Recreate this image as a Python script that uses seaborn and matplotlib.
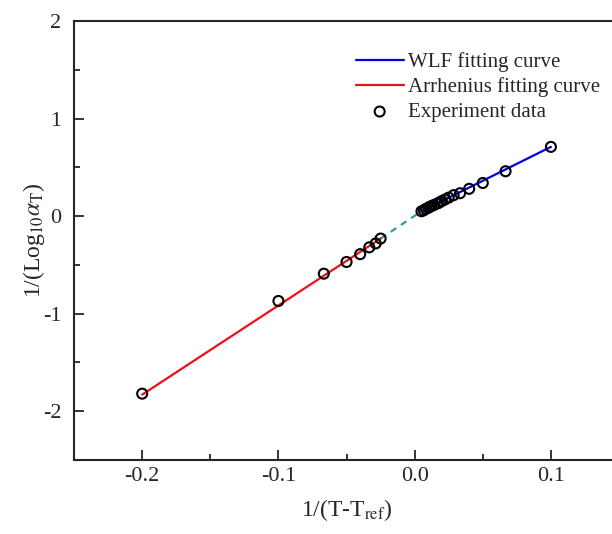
import matplotlib
matplotlib.use("Agg")
import matplotlib.pyplot as plt
from matplotlib.ticker import MultipleLocator
import seaborn as sns
import pandas as pd

# experiment points, 1/(T-Tref) vs 1/log10(aT)
arrh_x = [-0.2, -0.1, -0.0667, -0.05, -0.04, -0.0333, -0.0286, -0.025]
arrh_y = [-1.82, -0.87, -0.59, -0.47, -0.39, -0.32, -0.28, -0.23]
wlf_x = [0.005, 0.0067, 0.0083, 0.01, 0.0111, 0.0125, 0.0143, 0.0167, 0.0182,
         0.02, 0.0222, 0.025, 0.0286, 0.0333, 0.04, 0.05, 0.0667, 0.1]
wlf_y = [0.05, 0.06, 0.075, 0.085, 0.095, 0.105, 0.115, 0.13, 0.14,
         0.155, 0.17, 0.19, 0.215, 0.235, 0.28, 0.34, 0.46, 0.71]

# fitted lines (end points)
wlf_fit_x = [0.005, 0.1]
wlf_fit_y = [0.05, 0.71]
arrh_fit_x = [-0.2, -0.025]
arrh_fit_y = [-1.83, -0.23]
gap_x = [-0.025, 0.005]
gap_y = [-0.23, 0.05]

sns.set_style("ticks")
plt.rcParams["font.family"] = ["Liberation Serif", "DejaVu Serif"]
plt.rcParams["mathtext.fontset"] = "stix"

fig = plt.figure(figsize=(6.12, 5.34), dpi=100)
ax = fig.add_axes([0.121, 0.1386, 0.8905, 0.822])

pts = pd.DataFrame({"x": arrh_x + wlf_x, "y": arrh_y + wlf_y})

sns.lineplot(x=gap_x, y=gap_y, ax=ax, color="#2e9b9b", linestyle=(0, (3, 2.5)),
             linewidth=1.6, sort=False)
sns.lineplot(x=wlf_fit_x, y=wlf_fit_y, ax=ax, color="#0000ee", linewidth=1.6,
             sort=False, label="WLF fitting curve")
sns.lineplot(x=arrh_fit_x, y=arrh_fit_y, ax=ax, color="#ee1111", linewidth=1.6,
             sort=False, label="Arrhenius fitting curve")
sns.scatterplot(data=pts, x="x", y="y", ax=ax, marker="o", s=52,
                facecolor="none", edgecolor="black", linewidth=1.5,
                label="Experiment data", zorder=5)

ax.set_xlim(-0.25, 0.15)
ax.set_ylim(-2.5, 2)
ax.xaxis.set_minor_locator(MultipleLocator(0.05))
ax.yaxis.set_minor_locator(MultipleLocator(0.5))
ax.set_xticks([-0.2, -0.1, 0.0, 0.1])
ax.set_xticklabels(["-0.2", "-0.1", "0.0", "0.1"])
ax.set_yticks([-2, -1, 0, 1, 2])
ax.set_yticklabels(["-2", "-1", "0", "1", "2"])
ax.tick_params(which="both", direction="in", labelsize=16, width=1.3,
               top=False, right=False)
ax.tick_params(which="major", length=7)
ax.tick_params(axis="x", which="major", pad=5)
ax.tick_params(axis="y", which="major", pad=9)
ax.tick_params(which="minor", length=4)
for sp in ax.spines.values():
    sp.set_linewidth(1.5)

ax.set_xlabel(r"1/(T-T$_{\mathrm{ref}}$)", fontsize=17, labelpad=8)
ax.set_ylabel(r"1/(Log$_{10}$$\alpha_{\mathrm{T}}$)", fontsize=17, labelpad=-3)

leg = ax.legend(loc="upper left", bbox_to_anchor=(0.5015, 0.948), frameon=False,
                fontsize=15, handlelength=2.3, handletextpad=0.2,
                labelspacing=0.25, borderaxespad=0)

fig.savefig("out.png", dpi=100)
